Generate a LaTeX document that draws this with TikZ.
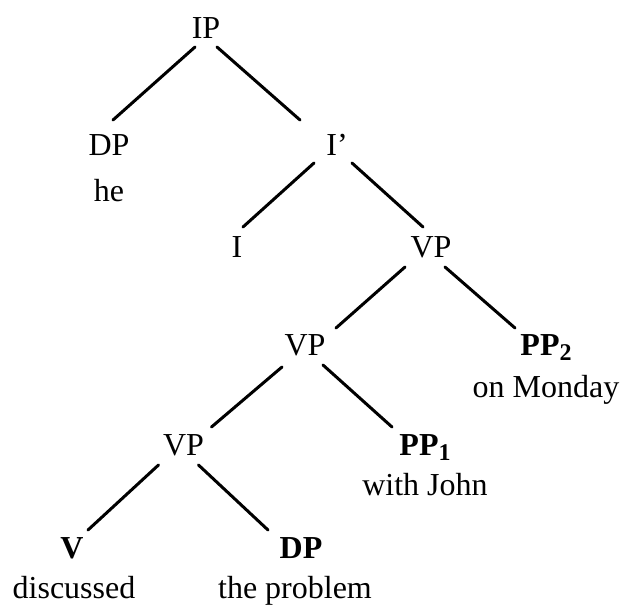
\documentclass[tikz,border=0pt]{standalone}
\usepackage{fontspec}
\setmainfont{Liberation Serif}
\usetikzlibrary{calc}
\newcommand{\lowsub}[1]{\raisebox{-5pt}{\fontsize{24}{24}\selectfont #1}}
\begin{document}
\begin{tikzpicture}[x=1pt,y=-1pt,
  cat/.style={anchor=base,inner sep=0pt,font=\fontsize{32}{38}\selectfont},
  headcat/.style={cat,font=\fontsize{32}{38}\selectfont\bfseries},
  word/.style={cat},
  branch/.style={line width=3pt,line cap=round}]
\useasboundingbox (0,0) rectangle (624,605);

% categories
\node[cat] (IP) at (206,38) {IP};
\node[cat] (DPs) at (109,155) {DP};
\node[word] (he) at (109,201) {he};
\node[cat] (Ibar) at (337,155) {I’};
\node[cat] (I) at (237,257) {I};
\node[cat] (VPa) at (431,257) {VP};
\node[cat] (VPb) at (305,355) {VP};
\node[headcat] (PPtwo) at (546,355) {PP\lowsub{2}};
\node[word] (monday) at (546,397) {on Monday};
\node[cat] (VPc) at (183.5,455) {VP};
\node[headcat] (PPone) at (425,455) {PP\lowsub{1}};
\node[word] (john) at (425,495) {with John};
\node[headcat] (V) at (72,558) {V};
\node[word] (disc) at (74,598) {discussed};
\node[headcat] (DPo) at (301,558) {DP};
\node[word] (prob) at (295,598) {the problem};

% branches, measured from each label's baseline
\draw[branch] ($(IP.base)+(-11,9)$) -- ($(DPs.base)+(4,-35)$);
\draw[branch] ($(IP.base)+(11,9)$) -- ($(Ibar.base)+(-37,-35)$);
\draw[branch] ($(Ibar.base)+(-23,8)$) -- ($(I.base)+(6,-30)$);
\draw[branch] ($(Ibar.base)+(15,8)$) -- ($(VPa.base)+(-8,-30)$);
\draw[branch] ($(VPa.base)+(-26,10)$) -- ($(VPb.base)+(31,-27)$);
\draw[branch] ($(VPa.base)+(14,10)$) -- ($(PPtwo.base)+(-31,-27)$);
\draw[branch] ($(VPb.base)+(-23,12)$) -- ($(VPc.base)+(28,-28)$);
\draw[branch] ($(VPb.base)+(18,10)$) -- ($(PPone.base)+(-33,-28)$);
\draw[branch] ($(VPc.base)+(-25,10)$) -- ($(V.base)+(16,-28)$);
\draw[branch] ($(VPc.base)+(15,10)$) -- ($(DPo.base)+(-33,-28)$);
\end{tikzpicture}
\end{document}
